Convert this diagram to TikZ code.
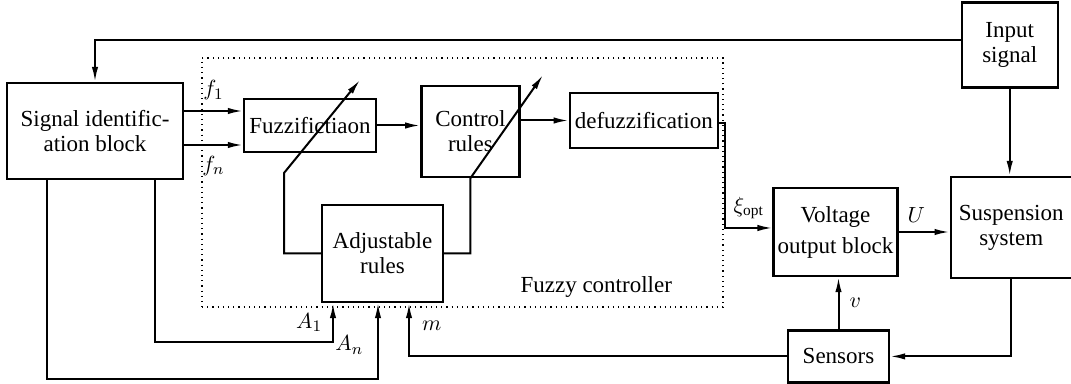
\documentclass[tikz,border=0pt]{standalone}
\usepackage{fontspec}
\setmainfont{Liberation Serif}
\usetikzlibrary{positioning, arrows.meta}
\tikzset{
  blk/.style={draw, line width=1.2pt, align=center, inner sep=2pt,
              font=\fontsize{11.5}{12.5}\selectfont},
  grp/.style={draw, dotted, line width=0.6pt},
  fl/.style={-{Latex[length=7.5pt,width=3.2pt]}, line width=1pt},
  lbl/.style={font=\fontsize{11}{12}\selectfont, inner sep=1pt},
}

\begin{document}
\begin{tikzpicture}[x=0.5pt, y=-0.5pt]
  \useasboundingbox (0,0) rectangle (1071,384);
  % fuzzy controller frame
  \node[grp, minimum width=260.5pt, minimum height=124.5pt] (fzc) at (462.5,182.5) {};
  \node[font=\fontsize{11.5}{12.5}\selectfont, anchor=base east] (fzl) at (679,293) {Fuzzy controller};
  % blocks
  \node[blk, minimum width=88pt, minimum height=48pt] (sig) at (95,131) {Signal identific-\\ation block};
  \node[blk, minimum width=66pt, minimum height=26.5pt] (fuz) at (310,125.5) {Fuzzifictiaon};
  \node[blk, minimum width=49pt, minimum height=45.5pt, right=21.5pt of fuz, yshift=-3pt] (ctrl) {Control\\rules};
  \node[blk, minimum width=74pt, minimum height=27.5pt, right=24pt of ctrl, yshift=5.5pt] (dfz) {defuzzification};
  \node[blk, minimum width=60.5pt, minimum height=48.5pt] (adj) at (382.5,253.5) {Adjustable\\rules};
  \node[blk, minimum width=61.5pt, minimum height=44pt] (volt) at (835.5,232) {Voltage\\[3pt]output block};
  \node[blk, minimum width=60.5pt, minimum height=50.5pt, right=25.5pt of volt, yshift=2.25pt] (susp) {Suspension\\system};
  \node[blk, minimum width=48pt, minimum height=42.5pt, above=43.5pt of susp, xshift=-0.75pt] (inp) {Input\\signal};
  \node[blk, minimum width=50.5pt, minimum height=26pt, below=26pt of volt, xshift=1.5pt] (sens) {Sensors};
  \coordinate (fk) at (284,173);
  \coordinate (ft) at (360,80);
  \coordinate (ct) at (543,75);
  % connectors
  \draw[fl] ([yshift=2.75pt]inp.west) -| (sig.north);
  \draw[fl] (inp.south) -- (inp.south |- susp.north);
  \draw[fl] ([yshift=10pt]sig.east) -- node[lbl, above=4pt] {$f_{1}$} ([yshift=10pt]sig.east -| fuz.west);
  \draw[fl] ([yshift=-7pt]sig.east) -- node[lbl, below=4pt] {$f_{n}$} ([yshift=-7pt]sig.east -| fuz.west);
  \draw[fl] (fuz.east) -- (fuz.east -| ctrl.west);
  \draw[fl] (ctrl.east |- dfz.west) -- (dfz.west);
  \draw[fl] (adj.west) -| (fk) -- (ft);
  \draw[fl] (adj.east) -| (ctrl.south) -- (ct);
  \draw[fl] ([yshift=-1.25pt]dfz.east) -- ++(6,0) |- node[lbl, pos=0.75, above=3pt] {$\xi_{\mathrm{opt}}$} ([yshift=2pt]volt.west);
  \draw[fl] (volt.east) -- node[lbl, pos=0.35, above=3pt] {$U$} (volt.east -| susp.west);
  \draw[fl] (susp.south) |- (sens.east);
  \draw[fl] (sens.north) -- node[lbl, right=4pt] {$v$} (sens.north |- volt.south);
  \draw[fl] (sens.west) -| node[lbl, pos=0.79, right=5pt] {$m$} ([xshift=13.25pt]adj.south);
  \draw[fl] ([xshift=30pt]sig.south) |- ([xshift=-24.75pt, yshift=-19.5pt]adj.south)
    -- node[lbl, left=4pt] {$A_{1}$} ([xshift=-24.75pt]adj.south);
  \draw[fl, line width=0.8pt] ([xshift=-24pt]sig.south) |- ([xshift=-2.25pt, yshift=-38pt]adj.south)
    -- node[lbl, pos=0.45, left=6pt] {$A_{n}$} ([xshift=-2.25pt]adj.south);
\end{tikzpicture}
\end{document}
